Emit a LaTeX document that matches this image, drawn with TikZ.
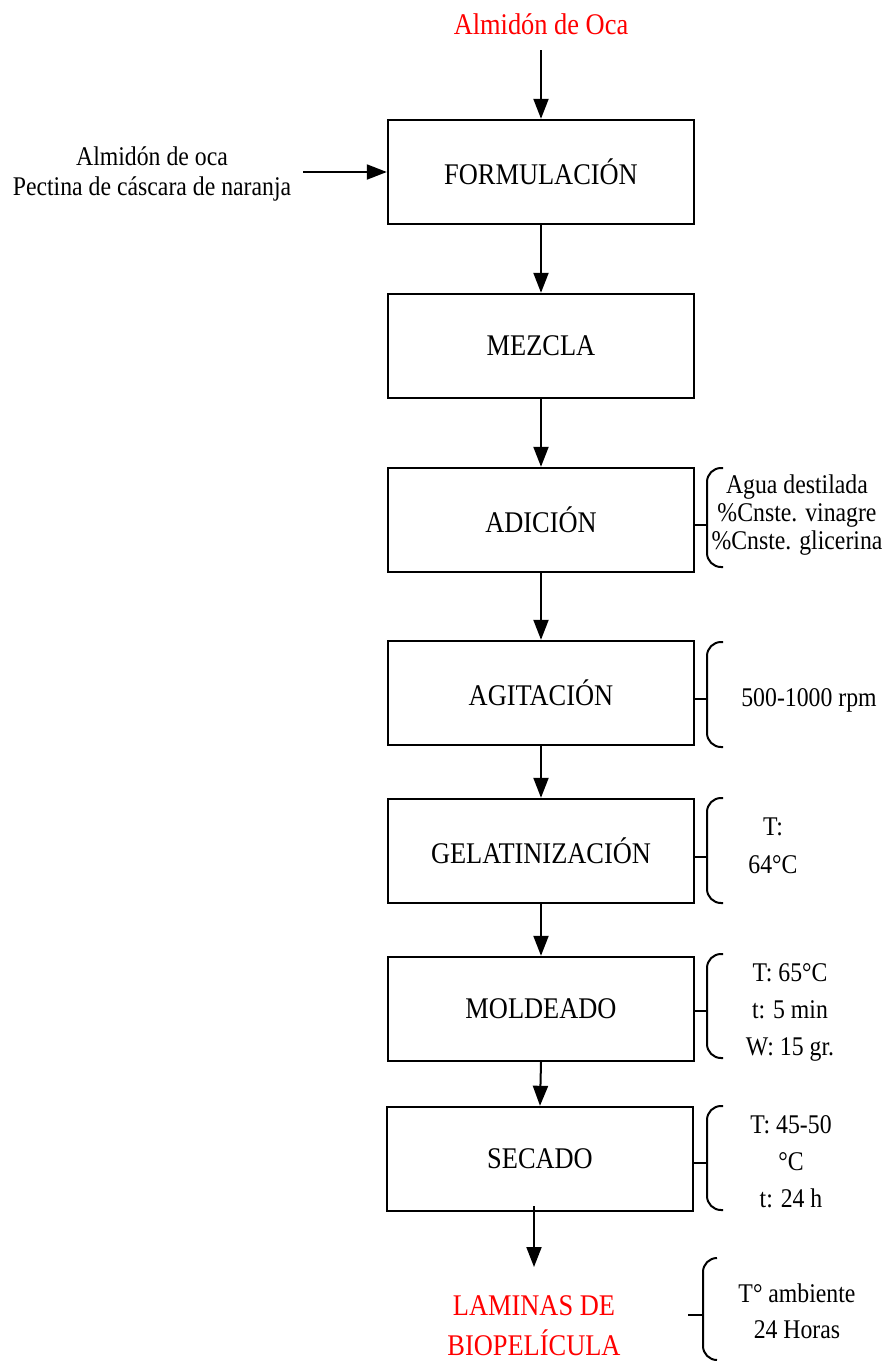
\documentclass[tikz,border=0pt]{standalone}
\usepackage{fontspec}
\setmainfont{Liberation Serif}[FakeStretch=0.88]
\usetikzlibrary{arrows.meta,calc}
\definecolor{titlered}{RGB}{255,0,0}
\tikzset{
  procbox/.style={draw, line width=2.4pt, minimum width=306pt, minimum height=104pt,
    inner sep=0pt, font=\fontsize{30}{36}\selectfont},
  arr/.style={line width=2pt, -{Triangle[length=20pt,width=15pt]}},
  sidetext/.style={align=center, inner sep=0pt, anchor=base},
  bracepath/.style={line width=2pt, rounded corners=14pt},
  ticklink/.style={line width=2.4pt},
}
\begin{document}
\begin{tikzpicture}[x=1pt,y=-1pt]
\useasboundingbox (0,0) rectangle (886,1361);

% title
\node[anchor=base, inner sep=8pt, text=titlered, font=\fontsize{30}{36}\selectfont] (title) at (541,34) {Almidón de Oca};

% process boxes
\node[procbox] (form) at (541,172) {FORMULACIÓN};
\node[procbox] (mezc) at (541,346) {MEZCLA};
\node[procbox] (adic) at (541,520) {ADICIÓN};
\node[procbox] (agit) at (541,693) {AGITACIÓN};
\node[procbox] (gela) at (541,851) {GELATINIZACIÓN};
\node[procbox] (mold) at (541,1009) {MOLDEADO};
\node[procbox] (seca) at (540,1159) {SECADO};

% input at left (base anchor = last line)
\node[sidetext, font=\fontsize{27}{30}\selectfont] (inp) at (152,195) {Almidón de oca\\Pectina de cáscara de naranja};

% product
\node[sidetext, text=titlered, font=\fontsize{30}{40}\selectfont] (lami) at (534,1355) {LAMINAS DE\\BIOPELÍCULA};
\coordinate (lamiin) at (534,1267);

% side conditions
\node[sidetext, font=\fontsize{27}{28}\selectfont] (adtx) at (797,549) {Agua destilada\\\%Cnste. vinagre\\\%Cnste. glicerina};
\node[sidetext, font=\fontsize{27}{30}\selectfont] (agtx) at (809,706) {500-1000 rpm};
\node[sidetext, font=\fontsize{27}{38}\selectfont] (getx) at (773,873) {T:\\64°C};
\node[sidetext, font=\fontsize{27}{37}\selectfont] (motx) at (790,1055) {T: 65°C\\t: 5 min\\W: 15 gr.};
\node[sidetext, font=\fontsize{27}{37}\selectfont] (setx) at (791,1207) {T: 45-50\\°C\\t: 24 h};
\node[sidetext, font=\fontsize{27}{36}\selectfont] (latx) at (797,1338) {T° ambiente\\24 Horas};

% connectors
\draw[arr, shorten <=8pt] (title.south) -- (form.north);
\draw[arr, shorten <=12pt] (inp.east |- form.west) -- (form.west);
\draw[arr] (form.south) -- (mezc.north);
\draw[arr] (mezc.south) -- (adic.north);
\draw[arr] (adic.south) -- (agit.north);
\draw[arr] (agit.south) -- (gela.north);
\draw[arr] (gela.south) -- (mold.north);
\draw[arr] (mold.south) -- (seca.north);
\draw[arr, shorten <=-6pt] (lamiin |- seca.south) -- (lamiin);

% braces
\draw[ticklink] (adic.east |- 0,525) -- (707,525);
\draw[bracepath] (723,468) -- (707,468) -- (707,567) -- (723,567);
\draw[ticklink] (agit.east |- 0,699) -- (707,699);
\draw[bracepath] (723,642) -- (707,642) -- (707,747) -- (723,747);
\draw[ticklink] (gela.east |- 0,857) -- (707,857);
\draw[bracepath] (723,798) -- (707,798) -- (707,903) -- (723,903);
\draw[ticklink] (mold.east |- 0,1011) -- (707,1011);
\draw[bracepath] (723,954) -- (707,954) -- (707,1058) -- (723,1058);
\draw[ticklink] (seca.east |- 0,1163) -- (707,1163);
\draw[bracepath] (723,1106) -- (707,1106) -- (707,1210) -- (723,1210);
\draw[ticklink] (688,1315) -- (703,1315);
\draw[bracepath] (717,1258) -- (703,1258) -- (703,1360) -- (717,1360);
\end{tikzpicture}
\end{document}
